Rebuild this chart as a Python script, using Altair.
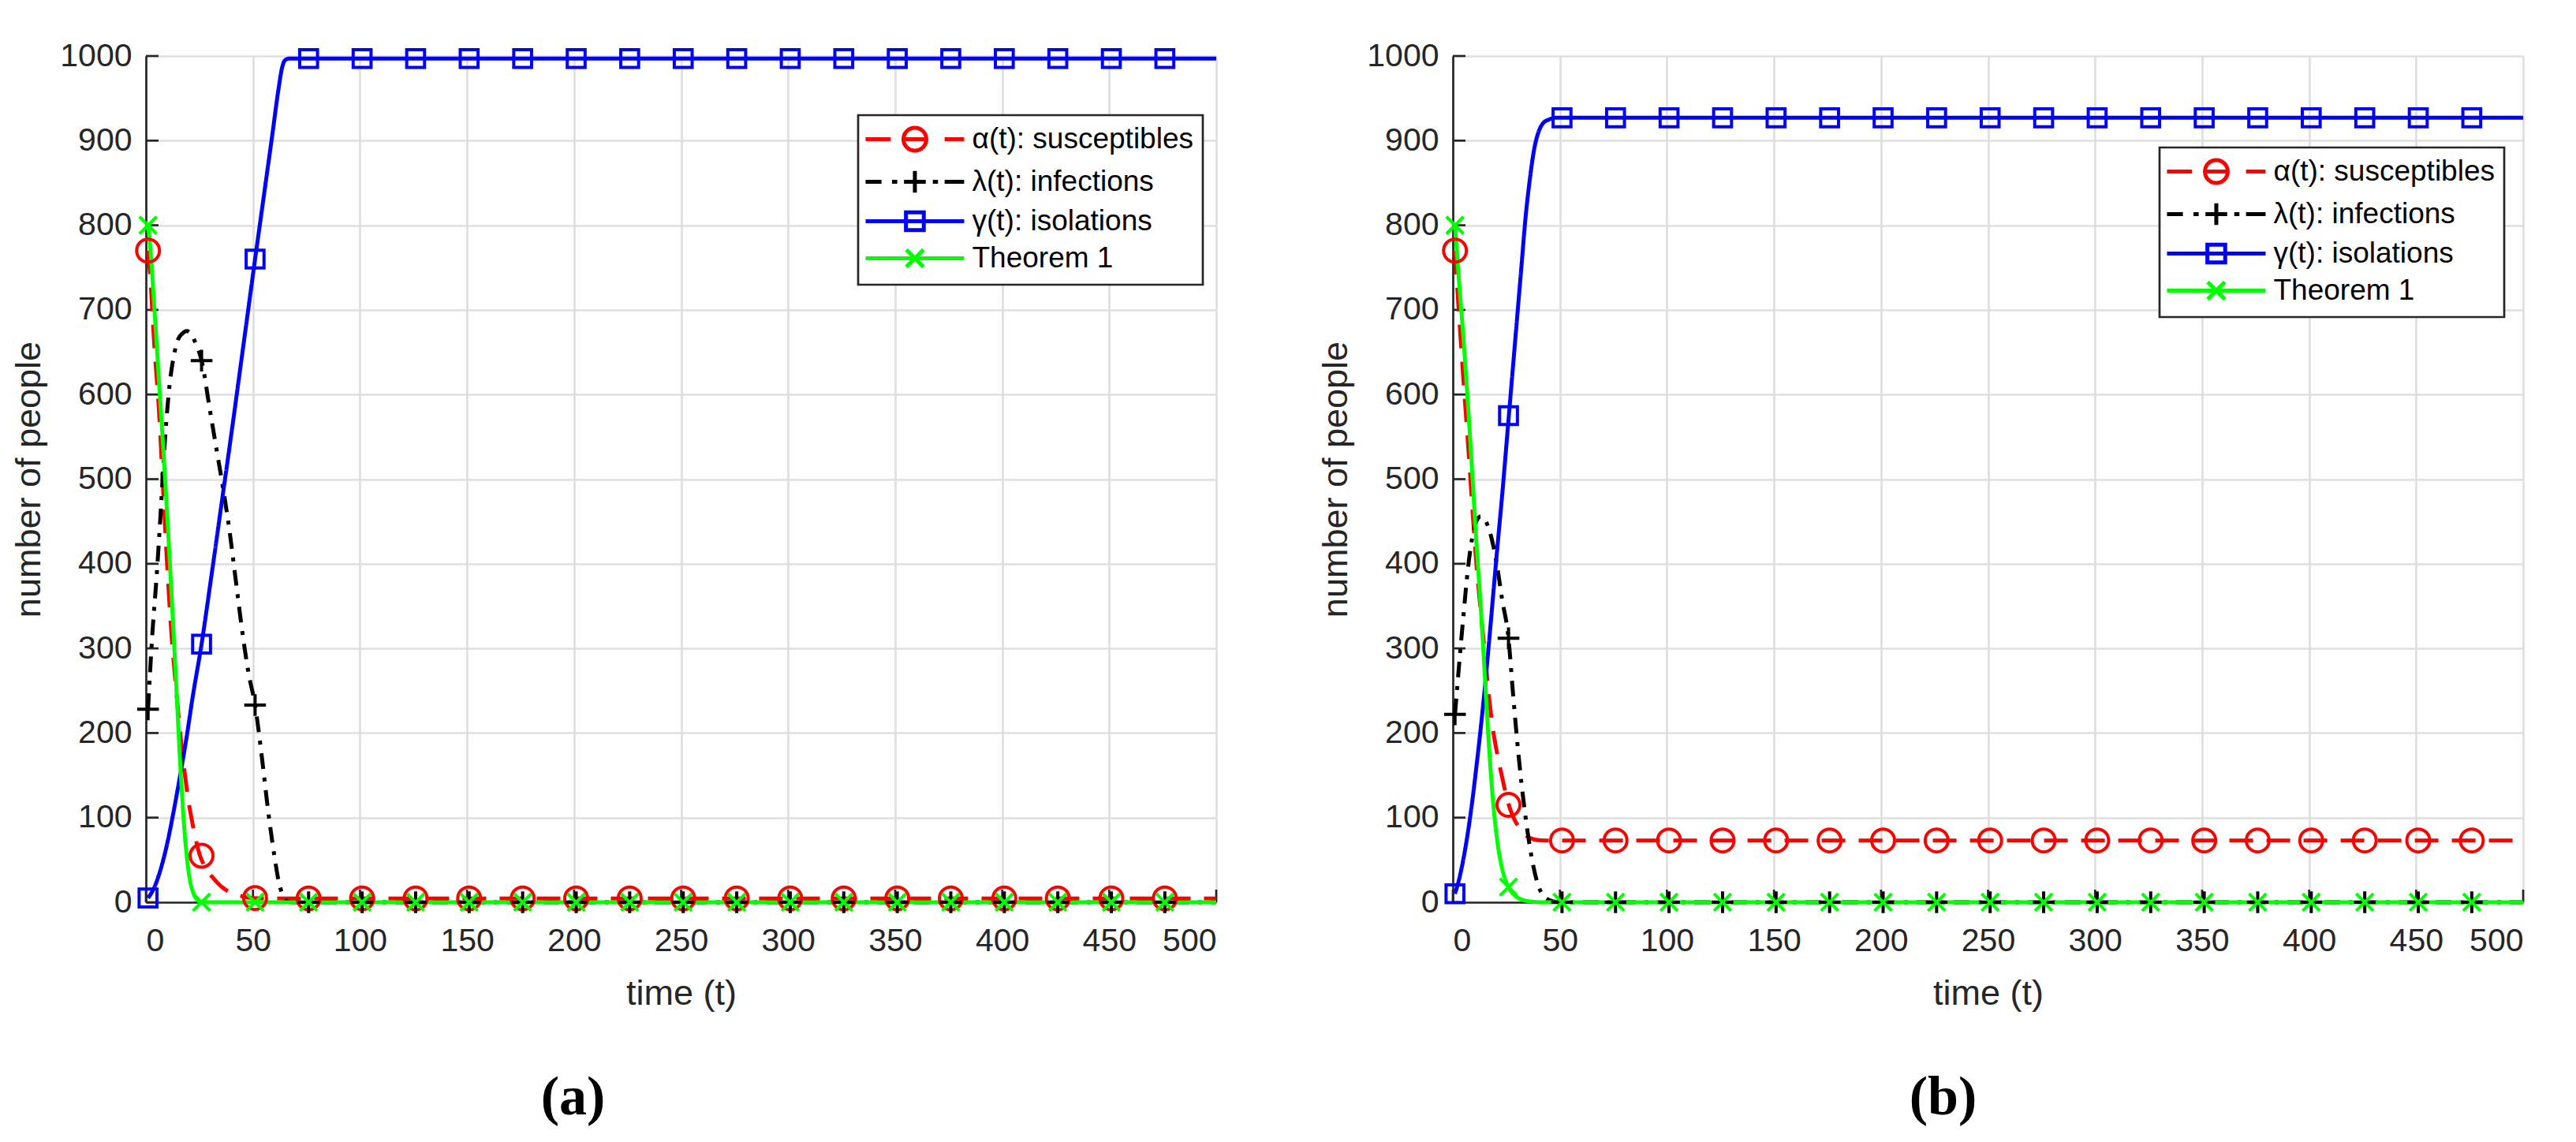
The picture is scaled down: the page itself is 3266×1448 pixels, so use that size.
import altair as alt
import pandas as pd

# ---------------- categories / styles ----------------
SERIES = ["α(t): susceptibles", "λ(t): infections", "γ(t): isolations", "Theorem 1"]
COLORS = ["#ff0000", "#000000", "#0000ff", "#00ff00"]
DASHES = [[30, 17], [20, 11, 5, 11], [1, 0], [1, 0]]
SHAPES = [
    "M1,0A1,1 0 1,1 -1,0A1,1 0 1,1 1,0Z",
    "M-0.95,0H0.95M0,-0.95V0.95",
    "M-0.78,-0.78H0.78V0.78H-0.78Z",
    "M-0.75,-0.75L0.75,0.75M-0.75,0.75L0.75,-0.75",
]
# legend samples: line pattern + marker drawn as one symbol
LEGEND_SYMBOLS = [
    "M-5.21,0H-3.02M-1.76,0H-0.04M1.7,0H3.41M0.1,0A1,1 0 1,1 -1.9,0A1,1 0 1,1 0.1,0Z",
    "M-5.21,0H-3.82M-2.9,0H-2.44M-1.85,0H0.05M-0.9,-0.95V0.95M0.67,0H1.12M1.7,0H3.41",
    "M-5.21,0H3.41M-1.68,-0.78H-0.12V0.78H-1.68Z",
    "M-5.21,0H3.41M-1.65,-0.75L-0.15,0.75M-1.65,0.75L-0.15,-0.75",
]
X_TICKS = [0, 50, 100, 150, 200, 250, 300, 350, 400, 450, 500]
Y_TICKS = [0, 100, 200, 300, 400, 500, 600, 700, 800, 900, 1000]

# ---------------- panel (a) curves ----------------
A_ALPHA_T = [1, 2, 4, 6, 8, 10, 12, 14, 16, 18, 20, 22, 25, 28, 32, 36, 40, 45, 50, 60, 500]
A_ALPHA_V = [770, 740, 655, 585, 490, 395, 315, 255, 200, 155, 118, 90, 57, 40, 27, 17, 11, 7, 5, 4.5, 4.5]
A_LAMBDA_T = [1, 3, 5, 7, 9, 11, 13, 15, 17, 19, 21, 23, 26, 30, 33, 36, 39, 42, 45, 48, 51, 54, 57, 60, 62, 64, 66, 68, 500]
A_LAMBDA_V = [228, 317, 385, 465, 550, 610, 645, 665, 672, 675, 672, 662, 640, 580, 535, 490, 440, 380, 320, 270, 233, 175, 110, 55, 25, 8, 1, 0, 0]
A_GAMMA_T = [1, 4, 7, 10, 13, 16, 19, 22, 26, 30, 35, 40, 45, 51, 55, 59, 62, 63.5, 65, 67, 500]
A_GAMMA_V = [5, 18, 40, 70, 108, 150, 195, 245, 305, 375, 465, 555, 648, 760, 833, 906, 962, 985, 995, 997, 997]
A_THEO_T = [1, 2, 4, 6, 8, 10, 12, 14, 16, 18, 20, 22, 24, 26, 500]
A_THEO_V = [800, 775, 700, 620, 540, 455, 362, 265, 165, 85, 35, 12, 3, 0, 0]

# ---------------- panel (b) curves ----------------
B_ALPHA_T = [1, 3, 5, 7, 9, 11, 13, 15, 17, 19, 21, 23, 26, 28, 30, 33, 36, 40, 45, 500]
B_ALPHA_V = [770, 690, 615, 545, 470, 400, 345, 293, 240, 200, 172, 148, 116, 102, 92, 82, 76, 73.5, 73, 73]
B_LAMBDA_T = [1, 3, 5, 7, 9, 11, 13, 15, 17, 19, 21, 23, 26, 28, 30, 32, 34, 36, 38, 40, 42, 44, 47, 50, 500]
B_LAMBDA_V = [222, 283, 340, 393, 430, 450, 456, 452, 440, 420, 392, 358, 312, 250, 192, 142, 100, 65, 38, 19, 9, 4, 1, 0, 0]
B_GAMMA_T = [1, 3, 5, 7, 9, 11, 13, 15, 17, 19, 21, 23, 26, 29, 32, 34, 36, 38, 40, 42, 45, 48, 500]
B_GAMMA_V = [10, 28, 52, 82, 118, 160, 205, 255, 310, 368, 425, 480, 570, 660, 750, 810, 855, 890, 910, 920, 925, 927, 927]
B_THEO_T = [1, 3, 5, 7, 9, 11, 13, 15, 17, 19, 21, 23, 26, 29, 33, 38, 42, 500]
B_THEO_V = [800, 730, 665, 590, 510, 425, 350, 265, 180, 113, 68, 40, 18, 8, 2.5, 0.5, 0, 0]

# ---------------- markers (every 25 steps) ----------------
MARK_T = [1, 26, 51, 76, 101, 126, 151, 176, 201, 226, 251, 276, 301, 326, 351, 376, 401, 426, 451, 476]
A_ALPHA_M = [770, 55, 5, 4.5, 4.5, 4.5, 4.5, 4.5, 4.5, 4.5, 4.5, 4.5, 4.5, 4.5, 4.5, 4.5, 4.5, 4.5, 4.5, 4.5]
A_LAMBDA_M = [228, 640, 233, 0, 0, 0, 0, 0, 0, 0, 0, 0, 0, 0, 0, 0, 0, 0, 0, 0]
A_GAMMA_M = [5, 305, 760, 997, 997, 997, 997, 997, 997, 997, 997, 997, 997, 997, 997, 997, 997, 997, 997, 997]
A_THEO_M = [800, 0, 0, 0, 0, 0, 0, 0, 0, 0, 0, 0, 0, 0, 0, 0, 0, 0, 0, 0]
B_ALPHA_M = [770, 115, 73, 73, 73, 73, 73, 73, 73, 73, 73, 73, 73, 73, 73, 73, 73, 73, 73, 73]
B_LAMBDA_M = [222, 312, 0, 0, 0, 0, 0, 0, 0, 0, 0, 0, 0, 0, 0, 0, 0, 0, 0, 0]
B_GAMMA_M = [10, 575, 927, 927, 927, 927, 927, 927, 927, 927, 927, 927, 927, 927, 927, 927, 927, 927, 927, 927]
B_THEO_M = [800, 18, 0, 0, 0, 0, 0, 0, 0, 0, 0, 0, 0, 0, 0, 0, 0, 0, 0, 0]

W, H = 1357, 1073
FONT = "Liberation Sans"
AX = "#262626"


def curves_df(pairs):
    rows = []
    for k, (ts, vs) in enumerate(pairs):
        for t, v in zip(ts, vs):
            rows.append({"series": SERIES[k], "k": k, "t": t, "v": v})
    return pd.DataFrame(rows)


def marks_df(lists):
    rows = []
    for k, vs in enumerate(lists):
        for t, v in zip(MARK_T, vs):
            rows.append({"series": SERIES[k], "k": k, "t": t, "v": v})
    return pd.DataFrame(rows)


def panel(cdf, mdf, lx, ly, caption, cdx):
    xs = alt.Scale(domain=[0, 500], nice=False, zero=False)
    ys = alt.Scale(domain=[0, 1000], nice=False, zero=False)
    xenc = alt.X("t:Q", scale=xs,
                 axis=alt.Axis(values=X_TICKS, title="time (t)", grid=True, ticks=False,
                               labelPadding=29, titlePadding=24, format="d"))
    yenc = alt.Y("v:Q", scale=ys,
                 axis=alt.Axis(values=Y_TICKS, title="number of people", grid=True, ticks=False,
                               labelPadding=18, titlePadding=16, format="d"))
    stroke_scale = alt.Scale(domain=SERIES, range=COLORS)
    leg = alt.Legend(title=None, orient="none", legendX=lx, legendY=ly,
                     symbolSize=841, symbolStrokeWidth=5, symbolFillColor="transparent",
                     symbolOffset=54.5, labelOffset=41, labelFontSize=37, labelFont=FONT,
                     labelColor="#000000", rowPadding=4, padding=12, labelLimit=1000,
                     fillColor="#ffffff", strokeColor=AX)

    yt = alt.Chart(pd.DataFrame({"v": Y_TICKS})).mark_rule(color=AX, strokeWidth=2.7).encode(
        y=alt.Y("v:Q", scale=ys), x=alt.value(0), x2=alt.value(16))
    xt = alt.Chart(pd.DataFrame({"t": X_TICKS})).mark_rule(color=AX, strokeWidth=2.7).encode(
        x=alt.X("t:Q", scale=xs), y=alt.value(H), y2=alt.value(H - 16))

    lines = alt.Chart(cdf).mark_line(strokeWidth=5, strokeCap="butt", strokeJoin="round",
                                      interpolate="monotone").encode(
        x=xenc, y=yenc,
        stroke=alt.Stroke("series:N", scale=stroke_scale, legend=None),
        strokeDash=alt.StrokeDash("series:N", scale=alt.Scale(domain=SERIES, range=DASHES), legend=None),
        detail="k:O",
    )
    pts = alt.Chart(mdf).mark_point(filled=False, size=841, strokeWidth=4, opacity=1).encode(
        x=alt.X("t:Q", scale=xs), y=alt.Y("v:Q", scale=ys),
        stroke=alt.Stroke("series:N", scale=stroke_scale, legend=None),
        shape=alt.Shape("series:N", scale=alt.Scale(domain=SERIES, range=SHAPES), legend=None),
    )
    # legend-only layer (no rows drawn): its symbols combine line pattern and marker
    key = alt.Chart(mdf).transform_filter("false").mark_point(
        filled=False, size=841, strokeWidth=5, opacity=1).encode(
        x=alt.X("t:Q", scale=xs), y=alt.Y("v:Q", scale=ys),
        stroke=alt.Stroke("series:N", scale=stroke_scale, legend=leg),
        shape=alt.Shape("series:N", scale=alt.Scale(domain=SERIES, range=LEGEND_SYMBOLS), legend=leg),
    )
    return alt.layer(yt, xt, lines, pts, key).resolve_scale(shape="independent").resolve_legend(
        stroke="independent", shape="independent"
    ).properties(
        width=W, height=H,
        title=alt.TitleParams(caption, orient="bottom", font="Liberation Serif", fontSize=70,
                              fontWeight="bold", color="#000000", dx=cdx, offset=76),
    )


pa = panel(
    curves_df([(A_ALPHA_T, A_ALPHA_V), (A_LAMBDA_T, A_LAMBDA_V), (A_GAMMA_T, A_GAMMA_V), (A_THEO_T, A_THEO_V)]),
    marks_df([A_ALPHA_M, A_LAMBDA_M, A_GAMMA_M, A_THEO_M]),
    903, 75, "(a)", -137,
)
pb = panel(
    curves_df([(B_ALPHA_T, B_ALPHA_V), (B_LAMBDA_T, B_LAMBDA_V), (B_GAMMA_T, B_GAMMA_V), (B_THEO_T, B_THEO_V)]),
    marks_df([B_ALPHA_M, B_LAMBDA_M, B_GAMMA_M, B_THEO_M]),
    896, 116, "(b)", -57,
)

chart = alt.hconcat(pa, pb, spacing=126).resolve_legend(
    stroke="independent", shape="independent"
).properties(
    padding={"left": 6, "top": 42, "right": 5, "bottom": 5},
    background="#ffffff",
).configure_view(stroke=None).configure_axis(
    gridColor="#dfdfdf", gridWidth=2.7, domainColor=AX, domainWidth=2.7,
    labelFont=FONT, labelFontSize=41, labelColor=AX,
    titleFont=FONT, titleFontSize=45, titleFontWeight="normal", titleColor=AX,
    labelOverlap=False,
).configure_legend(strokeWidth=2.7)

chart.save("out.html", embed_options={"renderer": "svg", "actions": False})
